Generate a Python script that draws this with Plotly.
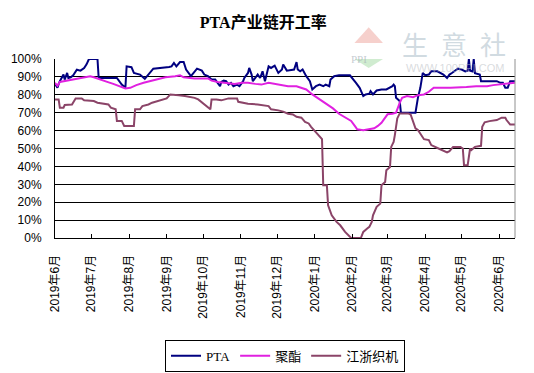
import plotly.graph_objects as go

# ---------------- data ----------------
pta_dates = ["2019-06-01","2019-06-03","2019-06-04","2019-06-05","2019-06-08","2019-06-09","2019-06-11","2019-06-12",
             "2019-06-14","2019-06-16","2019-06-19","2019-06-22","2019-06-25","2019-06-27","2019-06-29","2019-07-06",
             "2019-07-07","2019-07-22","2019-07-26","2019-07-29","2019-07-30","2019-08-03","2019-08-05","2019-08-10",
             "2019-08-14","2019-08-18","2019-08-21","2019-09-03","2019-09-05","2019-09-07","2019-09-09","2019-09-12",
             "2019-09-15","2019-09-17","2019-09-21","2019-09-26","2019-09-30","2019-10-02","2019-10-05","2019-10-08",
             "2019-10-11","2019-10-13","2019-10-15","2019-10-16","2019-10-18","2019-10-20","2019-10-22","2019-10-24",
             "2019-10-26","2019-10-29","2019-10-31","2019-11-03","2019-11-04","2019-11-07","2019-11-08","2019-11-10",
             "2019-11-11","2019-11-13","2019-11-15","2019-11-17","2019-11-19","2019-11-21","2019-11-24","2019-11-26",
             "2019-11-29","2019-12-02","2019-12-05","2019-12-06","2019-12-09","2019-12-15","2019-12-17","2019-12-18",
             "2019-12-20","2019-12-22","2019-12-25","2019-12-28","2019-12-30","2020-01-02","2020-01-05","2020-01-08",
             "2020-01-10","2020-01-13","2020-01-14","2020-01-17","2020-01-21","2020-01-30","2020-02-01","2020-02-04",
             "2020-02-07","2020-02-10","2020-02-12","2020-02-15","2020-02-16","2020-02-18","2020-02-21","2020-02-25",
             "2020-02-29","2020-03-03","2020-03-05","2020-03-06","2020-03-07","2020-03-08","2020-03-11","2020-03-12",
             "2020-03-24","2020-03-26","2020-03-28","2020-03-30","2020-04-01","2020-04-04","2020-04-06","2020-04-11",
             "2020-04-13","2020-04-16","2020-04-19","2020-04-21","2020-04-23","2020-04-26","2020-04-28","2020-05-01",
             "2020-05-04","2020-05-06","2020-05-07","2020-05-08","2020-05-10","2020-05-11","2020-05-12","2020-05-16",
             "2020-05-17","2020-05-30","2020-06-02","2020-06-04","2020-06-06","2020-06-08","2020-06-10","2020-06-14"]
pta_values = [86.0,84.0,86.0,87.6,91.3,88.5,92.2,89.4,
              89.8,90.9,94.0,93.5,95.0,97.0,100.0,100.0,
              89.4,89.4,85.7,84.0,95.9,95.4,92.2,91.3,
              88.9,92.2,94.6,95.5,95.9,97.8,95.9,98.3,
              98.3,94.1,90.4,94.6,93.5,91.3,90.4,88.5,
              88.5,86.7,84.8,87.2,87.9,87.6,85.7,86.7,
              84.8,85.7,84.8,87.6,89.4,92.2,95.0,91.3,
              87.6,89.4,91.3,89.4,93.1,87.6,95.9,95.0,
              96.3,92.2,94.1,96.9,93.5,94.1,98.3,94.1,
              93.1,94.1,90.4,87.6,83.0,84.8,85.7,84.8,
              85.7,84.8,88.5,90.4,90.9,90.9,89.4,86.7,
              83.9,79.3,80.2,80.6,82.0,80.2,82.4,83.0,
              83.0,83.9,84.8,85.7,84.8,78.3,76.5,70.0,
              70.0,78.3,83.9,92.2,90.9,91.3,93.1,93.1,
              92.2,91.3,89.4,91.3,92.2,93.5,94.6,94.1,
              93.1,93.5,100.0,93.5,93.1,100.0,92.0,91.3,
              87.6,87.6,86.7,86.7,84.0,84.0,87.6,87.6]

pet_dates = ["2019-06-01","2019-06-03","2019-06-05","2019-06-11","2019-06-19","2019-06-25","2019-06-30","2019-07-03",
             "2019-07-08","2019-07-14","2019-07-19","2019-07-25","2019-07-29","2019-08-02","2019-08-07","2019-08-13",
             "2019-08-18","2019-08-27","2019-08-31","2019-09-08","2019-09-12","2019-09-15","2019-09-19","2019-09-24",
             "2019-10-05","2019-10-08","2019-10-13","2019-10-19","2019-10-24","2019-10-27","2019-11-02","2019-11-07",
             "2019-11-13","2019-11-18","2019-11-24","2019-11-29","2019-12-05","2019-12-10","2019-12-17","2019-12-21",
             "2019-12-25","2019-12-30","2020-01-05","2020-01-10","2020-01-16","2020-01-21","2020-01-27","2020-01-31",
             "2020-02-03","2020-02-05","2020-02-10","2020-02-15","2020-02-19","2020-02-22","2020-02-25","2020-02-27",
             "2020-03-01","2020-03-05","2020-03-08","2020-03-11","2020-03-13","2020-03-17","2020-03-22","2020-03-26",
             "2020-03-31","2020-04-04","2020-04-08","2020-04-22","2020-04-30","2020-05-05","2020-05-13","2020-05-22",
             "2020-05-27","2020-06-02","2020-06-07","2020-06-14"]
pet_values = [86.7,85.0,87.2,88.0,89.1,89.8,90.4,89.8,
              88.5,87.2,86.1,84.8,83.5,83.9,85.4,86.7,
              87.6,89.1,89.8,90.4,90.9,89.8,89.4,89.1,
              89.1,87.9,87.2,86.7,86.7,86.1,86.7,86.7,
              86.1,85.7,86.7,86.1,85.4,84.8,84.8,83.9,
              83.0,80.2,77.4,75.0,72.4,69.4,67.2,65.4,
              62.6,60.7,60.2,60.7,61.3,62.6,64.4,66.3,
              69.1,69.4,70.0,75.5,78.3,79.3,78.7,79.8,
              80.2,81.7,83.9,83.9,83.9,84.3,84.8,84.8,
              85.4,85.7,86.1,86.7]

loom_dates = ["2019-06-01","2019-06-04","2019-06-05","2019-06-08","2019-06-09","2019-06-15","2019-06-18","2019-06-23",
              "2019-06-25","2019-07-03","2019-07-06","2019-07-11","2019-07-15","2019-07-17","2019-07-21","2019-07-22",
              "2019-07-26","2019-07-28","2019-08-05","2019-08-06","2019-08-10","2019-08-12","2019-08-17","2019-08-20",
              "2019-08-25","2019-08-28","2019-09-01","2019-09-04","2019-09-06","2019-09-11","2019-09-16","2019-09-24",
              "2019-09-27","2019-09-30","2019-10-04","2019-10-07","2019-10-08","2019-10-12","2019-10-16","2019-10-22",
              "2019-10-29","2019-10-30","2019-11-07","2019-11-15","2019-11-24","2019-11-26","2019-12-02","2019-12-06",
              "2019-12-10","2019-12-14","2019-12-17","2019-12-21","2019-12-24","2019-12-27","2019-12-29","2020-01-01",
              "2020-01-04","2020-01-07","2020-01-08","2020-01-11","2020-01-12","2020-01-15","2020-01-19","2020-01-22",
              "2020-01-26","2020-01-30","2020-01-31","2020-02-08","2020-02-10","2020-02-13","2020-02-15","2020-02-17",
              "2020-02-18","2020-02-21","2020-02-24","2020-02-25","2020-02-28","2020-02-29","2020-03-03","2020-03-04",
              "2020-03-06","2020-03-07","2020-03-09","2020-03-11","2020-03-18","2020-03-20","2020-03-21","2020-03-24",
              "2020-03-26","2020-03-28","2020-03-31","2020-04-04","2020-04-06","2020-04-12","2020-04-15","2020-04-19",
              "2020-04-21","2020-04-24","2020-04-30","2020-05-02","2020-05-03","2020-05-06","2020-05-08","2020-05-09",
              "2020-05-12","2020-05-17","2020-05-18","2020-05-20","2020-05-24","2020-05-30","2020-06-03","2020-06-06",
              "2020-06-07","2020-06-10","2020-06-14"]
loom_values = [77.4,77.4,72.8,72.8,74.3,74.6,78.0,78.0,
               76.9,76.5,75.6,75.0,74.6,72.8,71.9,65.4,
               65.4,62.6,62.6,71.9,71.9,73.7,74.6,75.6,
               76.5,76.9,78.0,80.2,80.2,79.8,79.3,78.3,
               77.4,75.6,73.7,71.9,77.4,77.4,76.9,78.0,
               78.0,76.1,75.0,74.6,73.7,71.9,71.3,70.6,
               69.4,69.0,67.7,67.2,64.9,64.0,62.1,59.7,
               57.5,55.2,29.5,29.5,18.3,12.7,9.0,7.1,
               3.4,0.6,0.0,0.0,3.4,5.2,6.2,9.0,
               12.7,17.4,19.2,29.5,31.3,37.9,39.7,50.9,
               53.7,57.5,66.8,69.6,69.6,69.0,66.8,61.2,
               60.3,58.4,55.2,54.7,51.9,50.0,49.1,47.8,
               48.5,50.9,50.9,50.0,40.7,40.7,50.0,49.1,
               50.9,51.5,62.1,64.6,65.3,65.9,67.2,67.2,
               65.9,63.4,63.4]

series_names = ["PTA", "聚酯", "江浙织机"]
month_ticks = ["2019-06-01","2019-07-01","2019-08-01","2019-09-01","2019-10-01","2019-11-01","2019-12-01",
               "2020-01-01","2020-02-01","2020-03-01","2020-04-01","2020-05-01","2020-06-01"]
month_labels = ["2019年6月","2019年7月","2019年8月","2019年9月","2019年10月","2019年11月","2019年12月",
                "2020年1月","2020年2月","2020年3月","2020年4月","2020年5月","2020年6月"]
y_ticks = [0,10,20,30,40,50,60,70,80,90,100]
y_labels = [f"{v}%" for v in y_ticks]
title_text = "PTA产业链开工率"

# ---------------- figure ----------------
W, H = 534, 373
ML, MR, MT, MB = 55, 19, 59, 135
SANS = "Liberation Sans, Arial, Noto Sans CJK SC, sans-serif"
SERIF = "Liberation Serif, Times New Roman, Noto Sans CJK SC, serif"

fig = go.Figure()
colors = ["#000080", "#E020E0", "#8B4468"]
for name, xs, ys, c in zip(series_names, [pta_dates, pet_dates, loom_dates],
                           [pta_values, pet_values, loom_values], colors):
    fig.add_trace(go.Scatter(x=xs, y=ys, mode="lines", name=name,
                             line=dict(color=c, width=2), cliponaxis=True))

fig.update_layout(
    width=W, height=H,
    margin=dict(l=ML, r=MR, t=MT, b=MB, autoexpand=False),
    paper_bgcolor="white", plot_bgcolor="white",
    title=dict(text="<b>" + title_text + "</b>", x=0.493, xanchor="center", y=0.94, yanchor="middle",
               font=dict(family=SERIF, size=16, color="black")),
    showlegend=True,
    legend=dict(orientation="h", x=0.5, xanchor="center", yref="container", y=0.089, yanchor="top",
                bordercolor="black", borderwidth=1, bgcolor="white",
                font=dict(family=SERIF, size=13, color="black"),
                itemwidth=30, tracegroupgap=0),
    xaxis=dict(type="date", range=["2019-06-01", "2020-06-14"], automargin=False,
               tickvals=month_ticks, ticktext=month_labels, tickangle=-90,
               ticks="inside", ticklen=4, tickcolor="black",
               showgrid=False, showline=True, linecolor="black", linewidth=1, mirror=False,
               tickfont=dict(family=SANS, size=12, color="black"),
               ticklabelstandoff=11, zeroline=False),
    yaxis=dict(range=[0, 100], tickvals=y_ticks, ticktext=y_labels, automargin=False,
               showgrid=True, gridcolor="black", gridwidth=1,
               showline=True, linecolor="black", linewidth=1,
               ticks="", tickfont=dict(family=SANS, size=12, color="black"),
               ticklabelstandoff=10, zeroline=False),
)

# right border of plot area (grey)
fig.add_shape(type="line", xref="paper", yref="paper", x0=1, x1=1, y0=0, y1=1,
              line=dict(color="#909090", width=1))

# watermark (生意社 logo)
fig.add_shape(type="path", xref="paper", yref="paper", layer="below",
              path="M 0.651 1.09 L 0.682 1.177 L 0.713 1.09 Z",
              fillcolor="rgba(230,120,110,0.35)", line=dict(width=0))
fig.add_shape(type="path", xref="paper", yref="paper", layer="below",
              path="M 0.651 1.0 L 0.713 1.0 L 0.682 0.95 Z",
              fillcolor="rgba(120,200,120,0.35)", line=dict(width=0))
fig.add_annotation(text="PPI", xref="paper", yref="paper", x=0.682, y=1.045, showarrow=False,
                   font=dict(family=SERIF, size=11, color="rgba(160,170,180,0.6)"))
fig.add_annotation(text="生\u2002意\u2002社", xref="paper", yref="paper", x=0.985, y=1.088, xanchor="right",
                   yanchor="middle", showarrow=False,
                   font=dict(family="Noto Sans CJK SC", size=26, color="rgba(170,188,200,0.55)"))
fig.add_annotation(text="WWW.100PPI.COM", xref="paper", yref="paper", x=0.98, y=0.95, xanchor="right",
                   yanchor="middle", showarrow=False,
                   font=dict(family=SANS, size=11, color="rgba(185,190,195,0.55)"))

fig.write_html("out.html", config={"displayModeBar": False},
               post_script="document.body.style.margin='0';document.body.style.padding='0';")
